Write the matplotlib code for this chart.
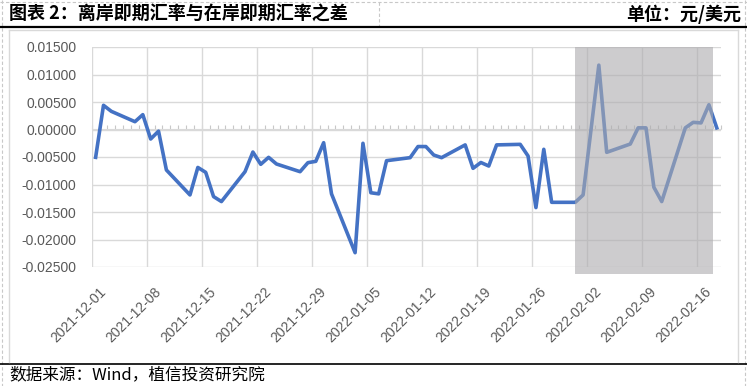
import matplotlib
matplotlib.use("Agg")
import matplotlib.pyplot as plt
import matplotlib.dates as mdates
import matplotlib.ticker as mticker
from matplotlib.patches import Rectangle
from matplotlib.lines import Line2D
from matplotlib.transforms import ScaledTranslation, blended_transform_factory
import pandas as pd

plt.rcParams['font.family'] = ['Liberation Sans', 'Noto Sans CJK SC', 'DejaVu Sans']

# trading days and CNH - CNY spot spread (yuan per dollar)
dates = ["2021-12-01", "2021-12-02", "2021-12-03", "2021-12-06", "2021-12-07", "2021-12-08",
         "2021-12-09", "2021-12-10", "2021-12-13", "2021-12-14", "2021-12-15", "2021-12-16",
         "2021-12-17", "2021-12-20", "2021-12-21", "2021-12-22", "2021-12-23", "2021-12-24",
         "2021-12-27", "2021-12-28", "2021-12-29", "2021-12-30", "2021-12-31", "2022-01-03",
         "2022-01-04", "2022-01-05", "2022-01-06", "2022-01-07", "2022-01-10", "2022-01-11",
         "2022-01-12", "2022-01-13", "2022-01-14", "2022-01-17", "2022-01-18", "2022-01-19",
         "2022-01-20", "2022-01-21", "2022-01-24", "2022-01-25", "2022-01-26", "2022-01-27",
         "2022-01-28", "2022-01-31", "2022-02-01", "2022-02-03", "2022-02-04", "2022-02-07",
         "2022-02-08", "2022-02-09", "2022-02-10", "2022-02-11", "2022-02-14", "2022-02-15",
         "2022-02-16", "2022-02-17", "2022-02-18"]
spread = [-0.00506, 0.00440, 0.00330, 0.00142, 0.00270, -0.00173,
          -0.00030, -0.00736, -0.01190, -0.00690, -0.00779, -0.01220,
          -0.01310, -0.00767, -0.00410, -0.00633, -0.00506, -0.00627,
          -0.00767, -0.00603, -0.00579, -0.00240, -0.01170, -0.02240,
          -0.00251, -0.01150, -0.01170, -0.00567, -0.00512, -0.00310,
          -0.00310, -0.00464, -0.00512, -0.00280, -0.00706, -0.00600,
          -0.00664, -0.00280, -0.00270, -0.00482, -0.01420, -0.00360,
          -0.01324, -0.01324, -0.01190, 0.01170, -0.00415, -0.00264,
          0.00030, 0.00030, -0.01050, -0.01310, 0.00030, 0.00130,
          0.00120, 0.00450, 0.00030]

x_start, x_end = "2021-12-01", "2022-02-19"
tick_dates = pd.date_range("2021-12-01", "2022-02-16", freq="7D")
shade_from, shade_to = "2022-01-31 12:00", "2022-02-18"
y_ticks = [-0.025, -0.02, -0.015, -0.01, -0.005, 0.0, 0.005, 0.01, 0.015]

title = "图表 2：离岸即期汇率与在岸即期汇率之差"
unit = "单位：元/美元"
source = "数据来源：Wind，植信投资研究院"

fig = plt.figure(figsize=(7.47, 3.86), dpi=100)
W, H = 747, 386

# frame decoration (report table look)
def hline(y, x0, x1, **kw):
    fig.add_artist(Line2D([x0 / W, x1 / W], [1 - y / H, 1 - y / H], transform=fig.transFigure, **kw))

def vline(x, y0, y1, **kw):
    fig.add_artist(Line2D([x / W, x / W], [1 - y0 / H, 1 - y1 / H], transform=fig.transFigure, **kw))

dash = dict(color="#c8c8c8", lw=0.8, ls=(0, (3, 2)))
hline(2, 0, 747, **dash)
vline(2, 0, 386, **dash)
vline(745, 0, 386, **dash)
vline(379, 2, 27, **dash)
hline(27, 0, 747, color="black", lw=1.6)
hline(363.5, 0, 747, color="black", lw=1.2)
box = dict(color="#d9d9d9", lw=1.0)
hline(29.5, 9, 738, **box)
vline(9, 29.5, 362, **box)
vline(738, 29.5, 362, **box)

fig.text(9 / W, 1 - 14 / H, title, fontsize=13, fontweight="bold",
         family=["Noto Sans CJK SC"], va="center", ha="left")
fig.text(741 / W, 1 - 14 / H, unit, fontsize=13, fontweight="bold",
         family=["Noto Sans CJK SC"], va="center", ha="right")
fig.text(9 / W, 1 - 375 / H, source, fontsize=12,
         family=["Noto Sans CJK SC"], va="center", ha="left")

ax = fig.add_axes([91.7 / W, 1 - 267 / H, (720.7 - 91.7) / W, (267 - 47) / H])

x = pd.to_datetime(dates) + pd.Timedelta(hours=12)
ax.plot(x, spread, color="#4472C4", lw=2.6, solid_joinstyle="round", zorder=3)

ax.set_xlim(pd.Timestamp(x_start), pd.Timestamp(x_end))
ax.set_ylim(y_ticks[0], y_ticks[-1])
ax.set_yticks(y_ticks)
ax.yaxis.set_major_formatter(mticker.FormatStrFormatter("%.5f"))
ax.set_xticks(tick_dates)
ax.xaxis.set_major_formatter(mdates.DateFormatter("%Y-%m-%d"))
ax.grid(True, color="#d9d9d9", lw=1.0)
ax.set_axisbelow(True)
for s in ax.spines.values():
    s.set_visible(False)
ax.tick_params(axis="both", length=0, labelsize=10, labelcolor="#595959")
ax.tick_params(axis="y", pad=11)
ax.tick_params(axis="x", pad=4)
shift = ScaledTranslation(7 / 100, -12 / 100, fig.dpi_scale_trans)
for lab in ax.get_xticklabels():
    lab.set_rotation(45)
    lab.set_ha("right")
    lab.set_va("top")
    lab.set_rotation_mode("anchor")
    lab.set_transform(lab.get_transform() + shift)

# horizontal axis at zero with daily tick marks
zero_frac = (0 - y_ticks[0]) / (y_ticks[-1] - y_ticks[0])
sec = ax.secondary_xaxis(zero_frac)
sec.xaxis.set_major_locator(mdates.DayLocator())
sec.xaxis.set_major_formatter(mticker.NullFormatter())
sec.tick_params(axis="x", length=3, width=0.8, color="#c8c8c8", direction="out")
sec.spines["top"].set_color("#d9d9d9")
sec.spines["bottom"].set_visible(False)

# shaded window over the lunar new year period
trans = blended_transform_factory(ax.transData, ax.transAxes)
x0 = mdates.date2num(pd.Timestamp(shade_from))
x1 = mdates.date2num(pd.Timestamp(shade_to))
ax.add_patch(Rectangle((x0, -0.034), x1 - x0, 1.034, transform=trans,
                       facecolor=(172 / 255, 171 / 255, 174 / 255), alpha=0.6,
                       edgecolor="none", clip_on=False, zorder=5))

fig.savefig("out.png", dpi=100)
